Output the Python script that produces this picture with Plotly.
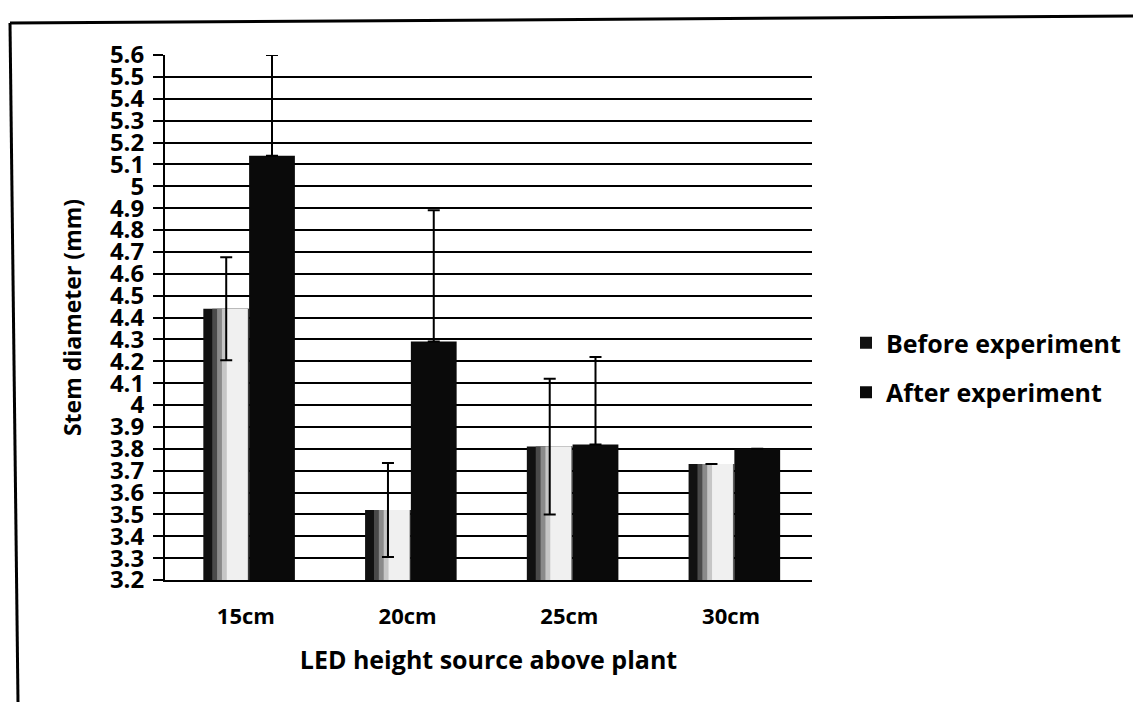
import plotly.graph_objects as go

# ---- data ----
categories = ["15cm", "20cm", "25cm", "30cm"]
before = [4.44, 3.52, 3.81, 3.73]
before_err = [0.235, 0.215, 0.31, None]
after = [5.14, 4.29, 3.82, 3.80]
after_err_up = [0.46, 0.60, 0.40, None]
after_err_down = [0, 0, 0, None]
series_names = ["Before experiment", "After experiment"]
y_tick_values = [3.2, 3.3, 3.4, 3.5, 3.6, 3.7, 3.8, 3.9, 4.0, 4.1, 4.2, 4.3, 4.4,
                 4.5, 4.6, 4.7, 4.8, 4.9, 5.0, 5.1, 5.2, 5.3, 5.4, 5.5, 5.6]
y_tick_labels = ["3.2", "3.3", "3.4", "3.5", "3.6", "3.7", "3.8", "3.9", "4", "4.1",
                 "4.2", "4.3", "4.4", "4.5", "4.6", "4.7", "4.8", "4.9", "5", "5.1",
                 "5.2", "5.3", "5.4", "5.5", "5.6"]
x_title = "LED height source above plant"
y_title = "Stem diameter (mm)"

# ---- styling ----
W = 0.283
SH = 0.02  # small group shift to the right
FONT = "Open Sans"
OFF = 8  # page body margin
FW, FH = 1141 - OFF, 702 - OFF
fig = go.Figure()

# Before bars: dark base + lighter inset layers to mimic the scanned gradient
fig.add_bar(x=categories, y=before, width=W, offset=-W + SH, name=series_names[0],
            legendgroup="b", marker=dict(color="#111111", line=dict(width=0)),
            hoverinfo="skip")
layers = [(0.055, 0.004, "#4a4a4a"), (0.085, 0.006, "#8a8a8a"),
          (0.115, 0.008, "#c6c6c6"), (0.145, 0.010, "#f0f0f0")]
for l, r, c in layers:
    fig.add_bar(x=categories, y=before, width=W - l - r, offset=-W + SH + l,
                legendgroup="b", showlegend=False,
                marker=dict(color=c, line=dict(width=0)), hoverinfo="skip")
# transparent carrier for the Before error bars (drawn above the layers)
fig.add_bar(x=categories, y=before, width=W, offset=-W + SH, legendgroup="b",
            showlegend=False, marker=dict(color="rgba(0,0,0,0)", line=dict(width=0)),
            error_y=dict(type="data", array=before_err, color="black",
                         thickness=2, width=6),
            hoverinfo="skip")

# After bars
fig.add_bar(x=categories, y=after, width=W, offset=SH, name=series_names[1],
            legendgroup="a", marker=dict(color="#0a0a0a", line=dict(width=0)),
            error_y=dict(type="data", symmetric=False, array=after_err_up,
                         arrayminus=after_err_down, color="black",
                         thickness=2, width=6))

# margins in figure pixels (screen = figure + OFF)
L, R, T, B = 165 - OFF, FW - (812 - OFF), 55 - OFF, FH - (580 - OFF)
PW, PH = FW - L - R, FH - T - B
def px(x):
    return (x - OFF - L) / PW
def py(y):
    return (FH - B - (y - OFF)) / PH

fig.add_shape(type="line", xref="paper", yref="paper",
              x0=px(10), y0=py(23), x1=px(1141), y1=py(16),
              line=dict(color="black", width=3))
fig.add_shape(type="line", xref="paper", yref="paper",
              x0=px(10), y0=py(23), x1=px(18), y1=py(702),
              line=dict(color="black", width=3))

fig.update_layout(
    width=FW, height=FH,
    margin=dict(l=L, r=R, t=T, b=B, autoexpand=False),
    barmode="overlay",
    plot_bgcolor="white", paper_bgcolor="white",
    font=dict(family=FONT, color="black"),
    showlegend=True,
    legend=dict(x=px(846), xanchor="left", y=py(320), yanchor="top",
                traceorder="grouped", tracegroupgap=14,
                font=dict(family=FONT, size=25, color="black", weight="bold"),
                bgcolor="rgba(0,0,0,0)"),
    xaxis=dict(
        showgrid=False, zeroline=False,
        showline=True, linecolor="black", linewidth=1.5,
        ticks="", ticklabelstandoff=16,
        tickfont=dict(family=FONT, size=22, color="black", weight="bold"),
        title=dict(text=x_title, standoff=22,
                   font=dict(family=FONT, size=25, color="black", weight="bold")),
    ),
    yaxis=dict(
        range=[3.2, 5.6],
        tickvals=y_tick_values, ticktext=y_tick_labels,
        showgrid=True, gridcolor="black", gridwidth=1.5,
        zeroline=False,
        showline=True, linecolor="black", linewidth=2,
        ticks="outside", ticklen=10, tickwidth=2, tickcolor="black",
        ticklabelstandoff=4,
        tickfont=dict(family=FONT, size=24, color="black", weight="bold"),
        title=dict(text=y_title, standoff=22,
                   font=dict(family=FONT, size=23, color="black", weight="bold")),
    ),
)

fig.write_html("out.html")
